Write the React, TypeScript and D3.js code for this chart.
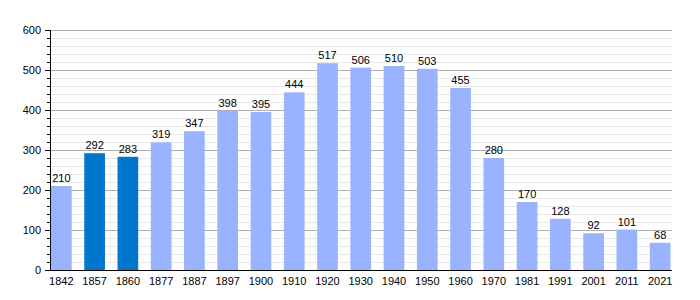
import React from "react";
import * as d3 from "d3";

const years = ["1842","1857","1860","1877","1887","1897","1900","1910","1920","1930","1940","1950","1960","1970","1981","1991","2001","2011","2021"];
const population = [210,292,283,319,347,398,395,444,517,506,510,503,455,280,170,128,92,101,68];
const highlighted = ["1857","1860"];
const yTicks = [0,100,200,300,400,500,600];

export default function App() {
  const W = 700, H = 300;
  const left = 50, right = 671.5, top = 30, bottom = 270;
  const x = d3.scaleBand<string>().domain(years).range([left, right]).paddingInner(0.378).paddingOuter(0.03);
  const y = d3.scaleLinear().domain([0, 600]).range([bottom, top]);
  const minor = d3.range(0, 601, 20).filter(v => v % 100 !== 0);
  const font = "'Liberation Sans', Arial, sans-serif";
  const gridEnd = 672;
  return (
    <svg width={W} height={H} style={{ position: "absolute", left: 0, top: 0, background: "#fff" }} fontFamily={font}>
      {minor.map(v => (
        <line key={"m" + v} x1={left} x2={gridEnd} y1={y(v)} y2={y(v)} stroke="#e8e8e8" strokeWidth={1} shapeRendering="crispEdges" />
      ))}
      {yTicks.filter(v => v > 0).map(v => (
        <line key={"g" + v} x1={left} x2={gridEnd} y1={y(v)} y2={y(v)} stroke="#b0b0b0" strokeWidth={1} shapeRendering="crispEdges" />
      ))}
      {years.map((yr, i) => (
        <g key={yr}>
          <rect x={x(yr)} y={y(population[i])} width={x.bandwidth()} height={bottom - y(population[i])}
            fill={highlighted.includes(yr) ? "#0077cc" : "#99b3ff"} />
          <text x={(x(yr) as number) + x.bandwidth() / 2} y={y(population[i]) - 4} textAnchor="middle" fontSize={11} fill="#000">{population[i]}</text>
          <text x={(x(yr) as number) + x.bandwidth() / 2} y={bottom + 15} textAnchor="middle" fontSize={11} fill="#000">{yr}</text>
        </g>
      ))}
      <line x1={left} x2={left} y1={top} y2={bottom} stroke="#000" strokeWidth={1} shapeRendering="crispEdges" />
      <line x1={left} x2={gridEnd} y1={bottom} y2={bottom} stroke="#000" strokeWidth={1} shapeRendering="crispEdges" />
      {minor.map(v => (
        <line key={"mt" + v} x1={left - 3} x2={left} y1={y(v)} y2={y(v)} stroke="#000" strokeWidth={1} shapeRendering="crispEdges" />
      ))}
      {yTicks.map(v => (
        <g key={"t" + v}>
          <line x1={left - 5} x2={left} y1={y(v)} y2={y(v)} stroke="#000" strokeWidth={1} shapeRendering="crispEdges" />
          <text x={left - 9} y={y(v) + 4} textAnchor="end" fontSize={11} fill="#000">{v}</text>
        </g>
      ))}
    </svg>
  );
}
